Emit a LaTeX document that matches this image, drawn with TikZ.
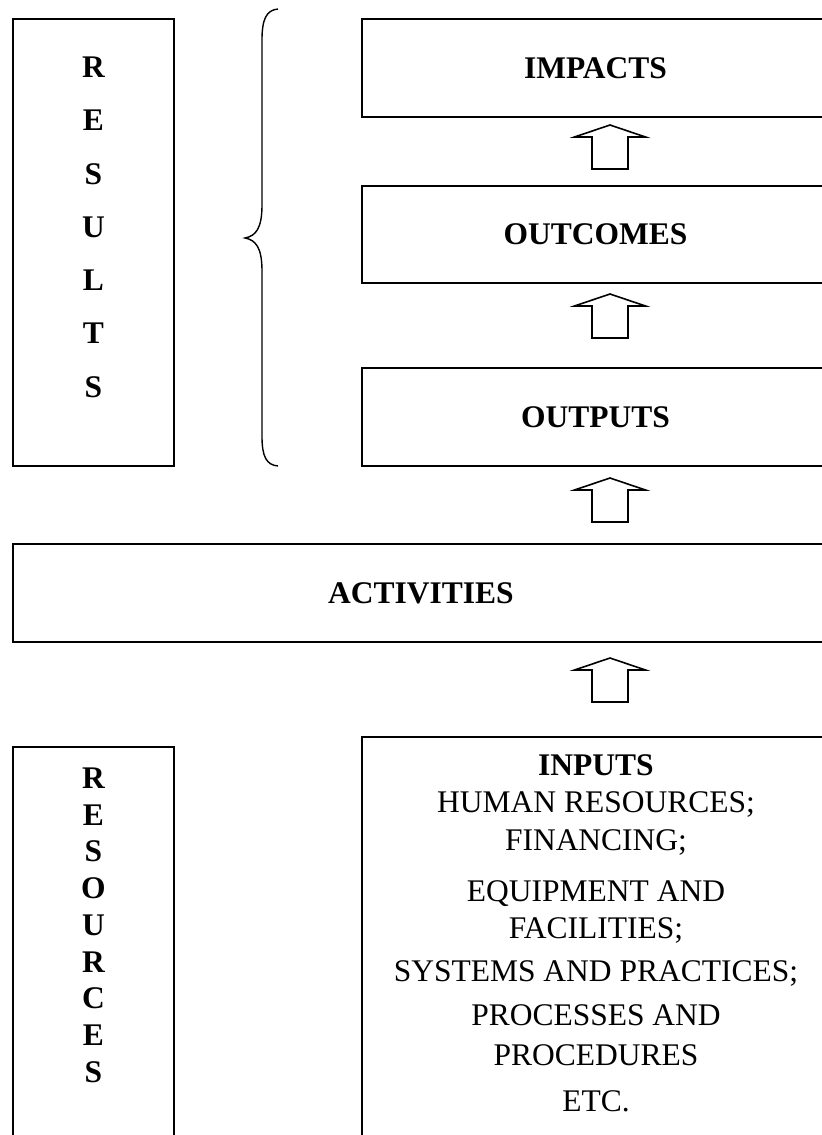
\documentclass[tikz,border=0pt]{standalone}
\usepackage{fontspec}
\setmainfont{Liberation Serif}
\usepackage{tikz}
\usetikzlibrary{calc}

\newcommand{\blockup}[1]{%
  \draw[blockarr] ($(#1)+(0,-22)$) -- ($(#1)+(35.5,-10)$) -- ($(#1)+(18,-10)$)
    -- ($(#1)+(18,22)$) -- ($(#1)+(-18,22)$) -- ($(#1)+(-18,-10)$)
    -- ($(#1)+(-35.5,-10)$) -- cycle;}

\begin{document}
\begin{tikzpicture}
  [x=0.5pt,y=-0.5pt,
   every node/.style={font=\fontsize{15.75}{18}\selectfont,inner sep=0pt,
     text height=10.4pt,text depth=0pt},
   box/.style={draw,line width=1pt,rectangle,font=\fontsize{15.75}{18}\selectfont\bfseries},
   letter/.style={font=\fontsize{15.75}{18}\selectfont\bfseries},
   blockarr/.style={draw,line width=0.8pt,line join=miter},
   brace/.style={draw,line width=0.7pt}]
  \useasboundingbox (0,0) rectangle (822,1135);
  % left column
  \node[box,minimum width=80.5pt,minimum height=223.5pt] (res) at (93.5,242.5) {};
  \foreach \ch [count=\i from 0] in {R,E,S,U,L,T,S}
    \node[letter] (res\i) at (93.5,67+53.3*\i) {\ch};
  \node[box,minimum width=80.5pt,minimum height=201.5pt] (rsrc) at (93.5,948.5) {};
  \foreach \ch [count=\i from 0] in {R,E,S,O,U,R,C,E,S}
    \node[letter] (rsrc\i) at (93.5,778+36.75*\i) {\ch};
  % brace
  \coordinate (bt) at (278,9);
  \coordinate (bm) at (245,238);
  \coordinate (bb) at (278,466);
  \draw[brace] (bt) .. controls (266,10) and (262,20) .. (262,40) -- (262,205)
    .. controls (262,228) and (256,236) .. (bm)
    .. controls (256,240) and (262,248) .. (262,271) -- (262,436)
    .. controls (262,456) and (266,465) .. (bb);
  % right column
  \node[box,minimum width=233.5pt,minimum height=49pt] (imp) at (595.5,68) {IMPACTS};
  \node[box,minimum width=233.5pt,minimum height=48.5pt] (outc) at (595.5,234.5) {OUTCOMES};
  \node[box,minimum width=233.5pt,minimum height=49pt] (outp) at (595.5,417) {OUTPUTS};
  \node[box,minimum width=408pt,minimum height=49pt] (act) at (421,593) {ACTIVITIES};
  \node[box,minimum width=233.5pt,minimum height=206.5pt] (inp) at (595.5,943.5) {};
  \node[letter] (inp0) at (596,765.5) {INPUTS};
  \foreach \y/\txt [count=\i] in {802/HUMAN RESOURCES;,840/FINANCING;,891.5/EQUIPMENT AND,
      928/FACILITIES;,971/SYSTEMS AND PRACTICES;,1015/PROCESSES AND,
      1055.5/PROCEDURES,1101/ETC.}
    \node (inp\i) at (596,\y) {\txt};
  % arrows
  \coordinate (a1) at (610,147);
  \coordinate (a2) at (610,316);
  \coordinate (a3) at (610,500);
  \coordinate (a4) at (610,680);
  \foreach \a in {a1,a2,a3,a4}
    \blockup{\a};
\end{tikzpicture}
\end{document}
